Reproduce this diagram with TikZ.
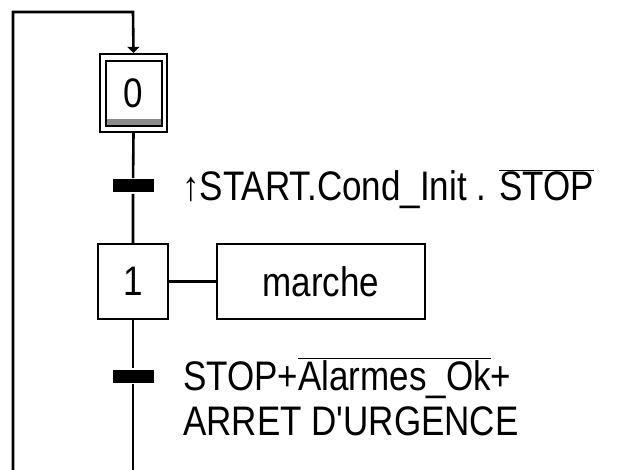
\documentclass[tikz,border=0pt]{standalone}
\usepackage{fontspec}
\setmainfont{Liberation Sans}[Ligatures=TeXOff]
\usepackage{graphicx}
\usetikzlibrary{arrows.meta}
\newcommand{\tall}[1]{\scalebox{1}[1.18]{#1}}
\begin{document}
\begin{tikzpicture}[x=1pt,y=-1pt,
  line width=2.6pt,
  every node/.style={font=\fontsize{35}{40}\selectfont},
  stepbox/.style={draw, line width=2.4pt, minimum width=70pt, minimum height=75pt, inner sep=0pt},
  actbox/.style={draw, line width=2.4pt, minimum width=208pt, minimum height=75pt, inner sep=0pt},
  trbar/.style={fill=black, minimum width=41pt, minimum height=13pt, inner sep=0pt},
  cond/.style={anchor=base west, inner sep=0pt}
]
\useasboundingbox (0,0) rectangle (618,470);
% step 0 (initial, double frame)
\node[draw, line width=2.2pt, minimum width=67pt, minimum height=78pt, inner sep=0pt] (s0) at (133.5,93) {};
\fill[gray!90] (107,119) rectangle (161,126);
\node[draw, line width=2pt, minimum width=56pt, minimum height=65pt, inner sep=0pt] (s0in) at (133.5,93.5) {\tall{0}};
% transition 1
\node[trbar] (t1) at (133,186) {};
\node[cond] (c1) at (181,201) {\tall{↑START.Cond\_Init . $\overline{\hbox{STOP}}$}};
% step 1
\node[stepbox] (s1) at (133,281.5) {\tall{1}};
\node[actbox] (a1) at (321,281.5) {\tall{marche}};
% transition 2
\node[trbar] (t2) at (133,376) {};
\node[cond] (c2a) at (182,390) {\tall{STOP+$\overline{\hbox{Alarmes\_Ok}}$+}};
\node[cond] (c2b) at (182,435) {\tall{ARRET D'URGENCE}};
% coordinates
\coordinate (top) at (133,12);
\coordinate (loopin) at (13,470);
\coordinate (bot) at (133,470);
% connectors
\draw (s0.south) -- (t1) -- (s1.north);
\draw (s1.south) -- (t2) -- (bot);
\draw (s1.east) -- (a1.west);
\draw[-{Triangle[width=12pt,length=6pt]}] (loopin) |- (top) -- (s0.north);
\end{tikzpicture}
\end{document}
